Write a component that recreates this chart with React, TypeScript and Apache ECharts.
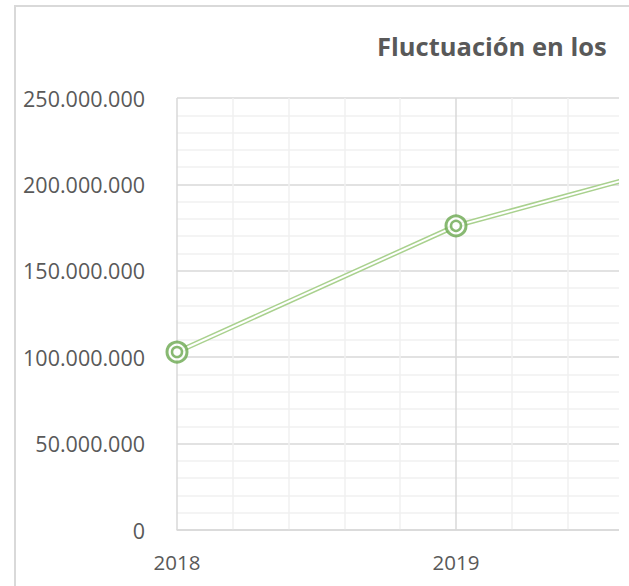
import React, { useEffect, useRef } from "react";
import * as echarts from "echarts";

const years = [2018, 2019, 2020];
const values = [103000000, 176000000, 220000000];
const yTicks = [0, 50000000, 100000000, 150000000, 200000000, 250000000];
const xLabels = ["2018", "2019"];
const titleText = "Fluctuación en los";

const fmt = (v: number) => String(Math.round(v)).replace(/\B(?=(\d{3})+(?!\d))/g, ".");

export default function App() {
  const ref = useRef<HTMLDivElement>(null);
  useEffect(() => {
    if (!ref.current) return;
    const chart = echarts.init(ref.current, undefined, { renderer: "svg" });
    const data = years.map((y, i) => [y, values[i]]);
    const font = "'Open Sans', sans-serif";
    chart.setOption({
      animation: false,
      backgroundColor: "#ffffff",
      grid: { left: 177, top: 98, width: 837, height: 432, right: -385, outerBoundsMode: "none", containLabel: false },
      xAxis: {
        type: "value",
        min: 2018,
        max: 2021,
        interval: 1,
        axisLine: { show: true, lineStyle: { color: "#d9d9d9", width: 1.5 } },
        axisTick: { show: false },
        axisLabel: {
          color: "#595959",
          fontSize: 20.5,
          fontFamily: font,
          margin: 21,
          formatter: (v: number) => (xLabels.indexOf(String(v)) >= 0 ? String(v) : ""),
        },
        splitLine: { show: true, lineStyle: { color: "#d9d9d9", width: 1.5 } },
        minorTick: { show: false, splitNumber: 5 },
        minorSplitLine: { show: true, lineStyle: { color: "#f0f0f0", width: 1.5 } },
      },
      yAxis: {
        type: "value",
        min: yTicks[0],
        max: yTicks[yTicks.length - 1],
        interval: yTicks[1] - yTicks[0],
        axisLine: { show: false },
        axisTick: { show: false },
        axisLabel: { color: "#595959", fontSize: 21.5, fontFamily: font, margin: 32, formatter: (v: number) => fmt(v) },
        splitLine: { show: true, lineStyle: { color: "#d9d9d9", width: 1.5 } },
        minorTick: { show: false, splitNumber: 5 },
        minorSplitLine: { show: true, lineStyle: { color: "#f0f0f0", width: 1.5 } },
      },
      series: [
        {
          type: "line",
          data,
          z: 2,
          symbol: "none",
          lineStyle: { color: "#a9d18e", width: 5 },
        },
        {
          type: "line",
          data,
          z: 3,
          symbol: "none",
          lineStyle: { color: "#ffffff", width: 2 },
        },
        {
          type: "scatter",
          data,
          z: 4,
          symbol: "circle",
          symbolSize: 20,
          itemStyle: { color: "#ffffff", borderColor: "#6aa84f", borderWidth: 3 },
        },
        {
          type: "scatter",
          data,
          z: 5,
          symbol: "circle",
          symbolSize: 10,
          itemStyle: { color: "#ffffff", borderColor: "#6aa84f", borderWidth: 2.5 },
        },
      ],
      graphic: [
        {
          type: "rect",
          z: 100,
          shape: { x: 619, y: 8, width: 20, height: 600 },
          style: { fill: "#ffffff" },
        },
        {
          type: "rect",
          z: 101,
          shape: { x: 15, y: 6, width: 800, height: 800 },
          style: { fill: "none", stroke: "#d9d9d9", lineWidth: 2 },
        },
        {
          type: "text",
          z: 102,
          x: 377,
          y: 46,
          style: { text: titleText, fill: "#595959", font: `bold 25.5px ${font}`, verticalAlign: "middle" },
        },
      ],
    });
    return () => chart.dispose();
  }, []);
  return <div ref={ref} style={{ position: "fixed", left: 0, top: 0, width: 629, height: 586 }} />;
}
